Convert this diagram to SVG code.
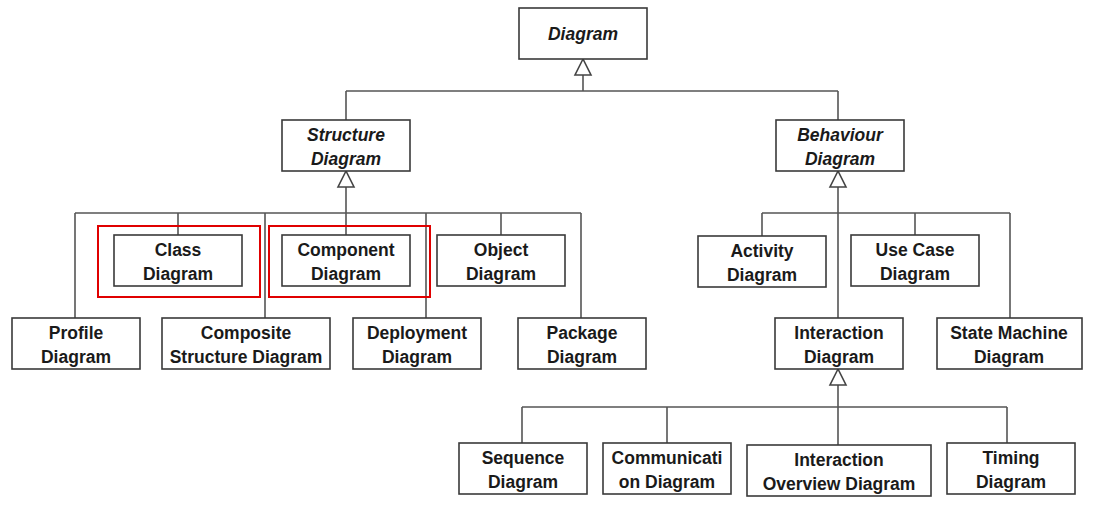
<svg xmlns="http://www.w3.org/2000/svg" width="1094" height="530" viewBox="0 0 1094 530">
<style>
.box{fill:#fff;stroke:#3a3a3a;stroke-width:1.6}
.hl{fill:none;stroke:#e00000;stroke-width:2}
.t{font-family:"Liberation Sans",Arial,sans-serif;font-size:17.5px;font-weight:bold;fill:#1a1a1a;text-anchor:middle}
.i{font-style:italic}
.c{fill:none;stroke:#555;stroke-width:1.6}
.tri{fill:#fff;stroke:#444;stroke-width:1.6}
</style>
<rect width="1094" height="530" fill="#fff"/>
<g id="connectors">
<path class="c" d="M583 75V91M346 91H838M346 91V120M838 91V120"/>
<path class="c" d="M346 187V235M75 213H581M75 213V318M178 213V235M265 213V318M426 213V318M501 213V235M581 213V318"/>
<path class="c" d="M838 187V318M762 213H1010M762 213V236M915 213V235M1010 213V318"/>
<path class="c" d="M838 385V445M522 407H1007M522 407V443M667 407V443M1007 407V443"/>
<polygon class="tri" points="583,59 575,75 591,75"/>
<polygon class="tri" points="346,171 338,187 354,187"/>
<polygon class="tri" points="838,171 830,187 846,187"/>
<polygon class="tri" points="838,369 830,385 846,385"/>
</g>
<g id="diagram"><rect class="box" x="519" y="8" width="128" height="51"/><text class="t i" x="583" y="40">Diagram</text></g>
<g id="structure"><rect class="box" x="282" y="120" width="128" height="51"/><text class="t i" x="346" y="141">Structure</text><text class="t i" x="346" y="165">Diagram</text></g>
<g id="behaviour"><rect class="box" x="776" y="120" width="128" height="51"/><text class="t i" x="840" y="141">Behaviour</text><text class="t i" x="840" y="165">Diagram</text></g>
<g id="class"><rect class="hl" x="98" y="226" width="162" height="71"/><rect class="box" x="114" y="235" width="128" height="51"/><text class="t" x="178" y="256">Class</text><text class="t" x="178" y="280">Diagram</text></g>
<g id="component"><rect class="hl" x="269" y="226" width="161" height="71"/><rect class="box" x="282" y="235" width="128" height="51"/><text class="t" x="346" y="256">Component</text><text class="t" x="346" y="280">Diagram</text></g>
<g id="object"><rect class="box" x="437" y="235" width="128" height="51"/><text class="t" x="501" y="256">Object</text><text class="t" x="501" y="280">Diagram</text></g>
<g id="profile"><rect class="box" x="12" y="318" width="128" height="51"/><text class="t" x="76" y="339">Profile</text><text class="t" x="76" y="363">Diagram</text></g>
<g id="composite"><rect class="box" x="162" y="318" width="168" height="51"/><text class="t" x="246" y="339">Composite</text><text class="t" x="246" y="363">Structure Diagram</text></g>
<g id="deployment"><rect class="box" x="353" y="318" width="128" height="51"/><text class="t" x="417" y="339">Deployment</text><text class="t" x="417" y="363">Diagram</text></g>
<g id="package"><rect class="box" x="518" y="318" width="128" height="51"/><text class="t" x="582" y="339">Package</text><text class="t" x="582" y="363">Diagram</text></g>
<g id="activity"><rect class="box" x="698" y="236" width="128" height="51"/><text class="t" x="762" y="257">Activity</text><text class="t" x="762" y="281">Diagram</text></g>
<g id="usecase"><rect class="box" x="851" y="235" width="128" height="51"/><text class="t" x="915" y="256">Use Case</text><text class="t" x="915" y="280">Diagram</text></g>
<g id="interaction"><rect class="box" x="775" y="318" width="128" height="51"/><text class="t" x="839" y="339">Interaction</text><text class="t" x="839" y="363">Diagram</text></g>
<g id="statemachine"><rect class="box" x="937" y="318" width="145" height="51"/><text class="t" x="1009" y="339">State Machine</text><text class="t" x="1009" y="363">Diagram</text></g>
<g id="sequence"><rect class="box" x="459" y="443" width="128" height="51"/><text class="t" x="523" y="464">Sequence</text><text class="t" x="523" y="488">Diagram</text></g>
<g id="communication"><rect class="box" x="603" y="443" width="128" height="51"/><text class="t" x="667" y="464">Communicati</text><text class="t" x="667" y="488">on Diagram</text></g>
<g id="overview"><rect class="box" x="747" y="445" width="184" height="51"/><text class="t" x="839" y="466">Interaction</text><text class="t" x="839" y="490">Overview Diagram</text></g>
<g id="timing"><rect class="box" x="947" y="443" width="128" height="51"/><text class="t" x="1011" y="464">Timing</text><text class="t" x="1011" y="488">Diagram</text></g>
</svg>
